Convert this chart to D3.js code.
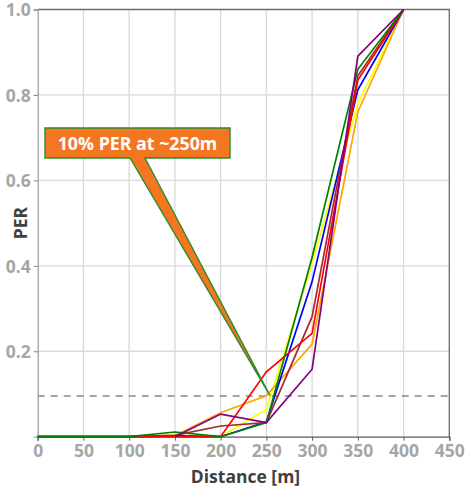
<!DOCTYPE html>
<html>
<head>
<meta charset="utf-8">
<script src="https://cdn.jsdelivr.net/npm/d3@7"></script>
<style>
  html, body { margin: 0; padding: 0; background: #fff; }
  svg { display: block; font-family: "Open Sans", sans-serif; }
</style>
</head>
<body>
<svg id="chart" width="466" height="489"></svg>
<script>
// ---- data ----
const distances = [0, 50, 100, 150, 200, 250, 300, 350, 400];
const xTicks = [0, 50, 100, 150, 200, 250, 300, 350, 400, 450];
const yTicks = [0.2, 0.4, 0.6, 0.8, 1.0];
const yellowPER = [0, 0, 0, 0.003, 0, 0.064, 0.406, 0.78, 1];
const orangePER = [0, 0, 0, 0.003, 0.056, 0.096, 0.217, 0.76, 1];
const bluePER   = [0, 0, 0, 0.002, 0, 0.035, 0.363, 0.812, 1];
const brownPER  = [0, 0, 0, 0.003, 0.025, 0.033, 0.281, 0.845, 1];
const redPER    = [0, 0, 0, 0, 0, 0.152, 0.242, 0.835, 1];
const greenPER  = [0, 0, 0, 0.011, 0, 0.033, 0.42, 0.86, 1];
const purplePER = [null, null, null, 0, 0.053, 0.033, 0.158, 0.891, 1];
const seriesNames = ["yellow", "orange", "blue", "brown", "red", "green", "purple"];
const seriesValues = [yellowPER, orangePER, bluePER, brownPER, redPER, greenPER, purplePER];
const seriesColors = ["#ffff00", "#ffa500", "#0000ff", "#a52a2a", "#ff0000", "#008000", "#800080"];
const thresholdPER = 0.095;
const annotationText = "10% PER at ~250m";
const annotationTarget = [254, 0.096];

// ---- layout ----
const FONT = "'Open Sans', sans-serif";
const svg = d3.select("#chart");
const plotLeft = 37.7, plotRight = 449.3, plotTop = 9.5, plotBottom = 436.7;
const x = d3.scaleLinear().domain([0, 450]).range([plotLeft, plotRight]);
const y = d3.scaleLinear().domain([0, 1]).range([plotBottom, plotTop]);

// grid
const grid = svg.append("g");
grid.selectAll("line.v").data(xTicks.slice(1, -1)).join("line")
  .attr("x1", d => x(d)).attr("x2", d => x(d))
  .attr("y1", y(0)).attr("y2", y(1))
  .attr("stroke", "#d9d9d9").attr("stroke-width", 1.3);
grid.selectAll("line.h").data(yTicks.slice(0, -1)).join("line")
  .attr("x1", x(0)).attr("x2", x(450))
  .attr("y1", d => y(d)).attr("y2", d => y(d))
  .attr("stroke", "#d9d9d9").attr("stroke-width", 1.3);

// frame top/right
svg.append("path")
  .attr("d", `M${x(0)},${y(1)}H${x(450)}V${y(0)}`)
  .attr("fill", "none").attr("stroke", "#6b6b6b").attr("stroke-width", 1.3);

// threshold dashed
svg.append("line")
  .attr("x1", x(0)).attr("x2", x(450))
  .attr("y1", y(thresholdPER)).attr("y2", y(thresholdPER))
  .attr("stroke", "#888").attr("stroke-width", 1.5)
  .attr("stroke-dasharray", "7,6");

// axes
const xAxis = d3.axisBottom(x).tickValues(xTicks).tickSize(4).tickPadding(4).tickFormat(d3.format("d"));
const gx = svg.append("g").attr("transform", `translate(0,${y(0)})`).call(xAxis);
gx.select(".domain").attr("stroke", "#595959").attr("stroke-width", 1.3);
gx.selectAll(".tick line").attr("stroke", "#595959");
gx.selectAll("text").attr("fill", "#a6a6a6").attr("font-size", 17.5).attr("font-weight", "bold")
  .attr("font-family", FONT);

const yAxis = d3.axisLeft(y).tickValues(yTicks).tickSize(4).tickPadding(3).tickFormat(d3.format(".1f"));
const gy = svg.append("g").attr("transform", `translate(${x(0)},0)`).call(yAxis);
gy.select(".domain").attr("stroke", "#a0a0a0").attr("stroke-width", 1.3);
gy.selectAll(".tick line").attr("stroke", "#808080");
gy.selectAll("text").attr("fill", "#a6a6a6").attr("font-size", 17.5).attr("font-weight", "bold")
  .attr("font-family", FONT).attr("dy", "0.36em");

// axis titles
svg.append("text").attr("x", (plotLeft + plotRight) / 2 + 2).attr("y", 483)
  .attr("text-anchor", "middle").attr("font-size", 17.5).attr("font-weight", "bold")
  .attr("font-family", FONT).attr("fill", "#404040").text("Distance [m]");
svg.append("text").attr("transform", `translate(27,${y(0.5)}) rotate(-90)`)
  .attr("text-anchor", "middle").attr("font-size", 17.5).attr("font-weight", "bold")
  .attr("font-family", FONT).attr("fill", "#404040").text("PER");

// series
const line = d3.line()
  .defined(d => d[1] !== null)
  .x(d => x(d[0])).y(d => y(d[1]));
svg.append("g").selectAll("path").data(seriesValues).join("path")
  .attr("d", vals => line(distances.map((dist, i) => [dist, vals[i]])))
  .attr("fill", "none")
  .attr("stroke", (d, i) => seriesColors[i])
  .attr("stroke-width", 1.7)
  .attr("stroke-linejoin", "miter");

// annotation callout
const bx0 = 45, bx1 = 230, by0 = 128, by1 = 158;
const tx = x(annotationTarget[0]), ty = y(annotationTarget[1]);
svg.append("path")
  .attr("d", `M${bx0},${by0}H${bx1}V${by1}H145L${tx},${ty}L130,${by1}H${bx0}Z`)
  .attr("fill", "#f47621").attr("stroke", "#2e8b2e").attr("stroke-width", 1.4)
  .attr("stroke-linejoin", "miter");
svg.append("text").attr("x", (bx0 + bx1) / 2).attr("y", 150)
  .attr("text-anchor", "middle").attr("font-size", 17.8).attr("font-weight", "bold")
  .attr("font-family", FONT).attr("fill", "#fff").text(annotationText);
</script>
</body>
</html>
